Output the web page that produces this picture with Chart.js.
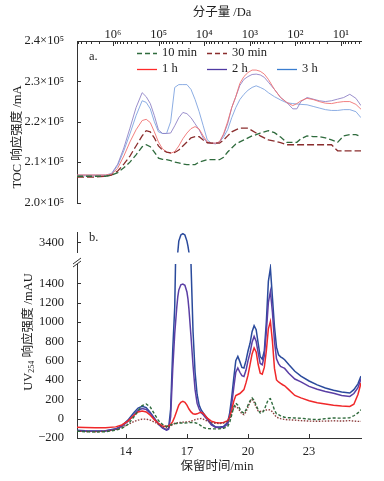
<!DOCTYPE html>
<html lang="zh">
<head>
<meta charset="UTF-8">
<title>TOC / UV254 chromatograms</title>
<style>
  body { margin: 0; background: #fff; }
  #wrap { position: relative; width: 384px; height: 481px; }
  canvas { position: absolute; left: 0; }
</style>
</head>
<body>
<div id="wrap">
  <canvas id="tocChart" width="384" height="215" style="top:0px"></canvas>
  <canvas id="uvTop" width="384" height="45" style="top:220px"></canvas>
  <canvas id="uvBottom" width="384" height="231" style="top:250px"></canvas>
</div>
<script src="https://cdn.jsdelivr.net/npm/chart.js"></script>
<script>
// ---- series names (legend) ----
const seriesNames = ['10 min', '30 min', '1 h', '2 h', '3 h'];

// ---- panel a: TOC response (x10^5 mA) vs retention time (min) ----
const tocTime = [
  11.6, 12.0, 12.5, 13.0, 13.3, 13.6, 13.9, 14.2, 14.5, 14.8,
  15.0, 15.2, 15.4, 15.6, 15.8, 16.0, 16.2, 16.4, 16.6, 16.8,
  17.0, 17.2, 17.4, 17.6, 17.8, 18.0, 18.2, 18.4, 18.6, 18.8,
  19.0, 19.2, 19.4, 19.6, 19.8, 20.0, 20.2, 20.4, 20.6, 20.8,
  21.0, 21.3, 21.6, 21.9, 22.2, 22.4, 22.6, 22.9, 23.2, 23.5,
  23.8, 24.1, 24.4, 24.7, 25.0, 25.3, 25.55
];
const toc10min = [
  2.065, 2.065, 2.065, 2.065, 2.068, 2.074, 2.086, 2.100, 2.118, 2.138,
  2.143, 2.138, 2.125, 2.110, 2.107, 2.106, 2.104, 2.100, 2.098, 2.095,
  2.094, 2.094, 2.094, 2.100, 2.103, 2.106, 2.106, 2.106, 2.106, 2.112,
  2.125, 2.135, 2.145, 2.150, 2.155, 2.160, 2.165, 2.168, 2.172, 2.175,
  2.178, 2.173, 2.162, 2.149, 2.149, 2.149, 2.158, 2.165, 2.163, 2.163,
  2.160, 2.155, 2.149, 2.165, 2.168, 2.168, 2.163
];
const toc30min = [
  2.063, 2.063, 2.063, 2.065, 2.068, 2.078, 2.095, 2.115, 2.140, 2.165,
  2.178, 2.175, 2.160, 2.140, 2.130, 2.125, 2.123, 2.124, 2.130, 2.140,
  2.150, 2.160, 2.163, 2.163, 2.155, 2.148, 2.147, 2.147, 2.147, 2.155,
  2.165, 2.175, 2.180, 2.184, 2.184, 2.184, 2.178, 2.172, 2.165, 2.160,
  2.155, 2.152, 2.148, 2.143, 2.143, 2.143, 2.143, 2.143, 2.143, 2.143,
  2.143, 2.143, 2.128, 2.128, 2.128, 2.128, 2.128
];
const toc1h = [
  2.068, 2.068, 2.068, 2.068, 2.070, 2.085, 2.115, 2.150, 2.180, 2.203,
  2.206, 2.198, 2.175, 2.150, 2.133, 2.125, 2.122, 2.126, 2.140, 2.158,
  2.172, 2.183, 2.188, 2.182, 2.165, 2.150, 2.147, 2.147, 2.150, 2.170,
  2.200, 2.235, 2.262, 2.295, 2.312, 2.322, 2.328, 2.328, 2.325, 2.318,
  2.305, 2.280, 2.260, 2.248, 2.240, 2.245, 2.252, 2.258, 2.255, 2.250,
  2.246, 2.245, 2.248, 2.250, 2.250, 2.243, 2.231
];
const toc2h = [
  2.068, 2.068, 2.068, 2.068, 2.072, 2.095, 2.135, 2.184, 2.235, 2.272,
  2.262, 2.245, 2.215, 2.180, 2.171, 2.171, 2.172, 2.190, 2.210, 2.223,
  2.220, 2.210, 2.195, 2.180, 2.160, 2.148, 2.147, 2.147, 2.150, 2.168,
  2.195, 2.235, 2.262, 2.290, 2.305, 2.312, 2.317, 2.318, 2.316, 2.310,
  2.298, 2.280, 2.260, 2.248, 2.232, 2.232, 2.250, 2.260, 2.256, 2.252,
  2.250, 2.252, 2.256, 2.260, 2.268, 2.258, 2.240
];
const toc3h = [
  2.066, 2.066, 2.066, 2.066, 2.070, 2.092, 2.128, 2.170, 2.215, 2.252,
  2.248, 2.232, 2.200, 2.175, 2.171, 2.171, 2.200, 2.285, 2.292, 2.292,
  2.292, 2.280, 2.255, 2.225, 2.190, 2.155, 2.147, 2.145, 2.150, 2.162,
  2.180, 2.210, 2.235, 2.255, 2.268, 2.278, 2.285, 2.289, 2.285, 2.280,
  2.272, 2.262, 2.254, 2.247, 2.245, 2.244, 2.243, 2.242, 2.238, 2.234,
  2.230, 2.228, 2.228, 2.230, 2.230, 2.225, 2.210
];
const tocTicks = [2.0, 2.1, 2.2, 2.3, 2.4];
const mwTicks = [1, 2, 3, 4, 5, 6];          // log10(MW / Da)

// ---- panel b: UV254 response (mAU) vs retention time (min) ----
const uvTime = [
  11.6, 12.0, 12.5, 13.0, 13.5, 13.8, 14.1, 14.4, 14.6, 14.8,
  15.0, 15.2, 15.4, 15.6, 15.8, 16.0, 16.1, 16.2, 16.3, 16.4,
  16.5, 16.55, 16.6, 16.7, 16.8, 16.9, 17.0, 17.05, 17.1, 17.2,
  17.3, 17.4, 17.5, 17.6, 17.7, 17.8, 17.9, 18.0, 18.2, 18.4,
  18.6, 18.8, 19.0, 19.1, 19.2, 19.3, 19.4, 19.5, 19.6, 19.7,
  19.8, 19.9, 20.0, 20.1, 20.2, 20.3, 20.4, 20.5, 20.6, 20.7,
  20.8, 20.9, 21.0, 21.1, 21.2, 21.3, 21.4, 21.5, 21.6, 21.7,
  21.8, 22.0, 22.3, 22.6, 23.0, 23.4, 23.8, 24.2, 24.6, 25.0,
  25.2, 25.4, 25.55
];
const uv10min = [
  -130, -135, -138, -135, -120, -100, -60, 20, 80, 135,
  152, 120, 50, -20, -60, -80, -75, -65, -55, -50,
  -50, -48, -47, -45, -45, -45, -44, -43, -42, -40,
  -40, -42, -48, -60, -75, -90, -98, -102, -105, -106,
  -105, -100, -80, -40, 40, 120, 160, 140, 100, 70,
  58, 90, 140, 185, 214, 190, 140, 90, 58, 60,
  90, 150, 200, 207, 150, 90, 50, 41, 30, 20,
  15, 10, 7, 5, -5, -10, 0, 7, 5, 10,
  30, 60, 93
];
const uv30min = [
  -130, -132, -135, -130, -115, -90, -60, -30, -15, -5,
  -5, -15, -35, -60, -85, -95, -90, -75, -60, -50,
  -45, -42, -40, -38, -36, -35, -33, -32, -30, -25,
  -20, -10, -5, 0, 2, -5, -15, -25, -40, -48,
  -50, -45, -30, 0, 60, 110, 127, 110, 80, 50,
  41, 70, 120, 170, 196, 170, 120, 80, 75, 80,
  85, 90, 93, 90, 70, 40, 15, 7, 0, -5,
  -8, -12, -15, -20, -25, -27, -25, -22, -25, -20,
  -25, -28, -28
];
const uv1h = [
  -90, -92, -95, -95, -85, -65, -25, 35, 70, 80,
  70, 35, -10, -50, -75, -80, -75, -60, -30, 20,
  80, 110, 140, 170, 179, 170, 140, 120, 100, 70,
  50, 45, 50, 60, 65, 55, 30, 5, -25, -40,
  -45, -40, -20, 20, 90, 180, 240, 250, 260, 280,
  300, 370, 450, 560, 670, 731, 690, 560, 470, 460,
  530, 700, 930, 1006, 800, 520, 400, 380, 365, 351,
  340, 300, 240, 215, 185, 165, 152, 140, 130, 127,
  150, 250, 369
];
const uv2h = [
  -125, -130, -130, -128, -110, -80, -30, 40, 85, 105,
  95, 55, 0, -55, -95, -118, -110, 20, 500, 880,
  1150, 1260, 1330, 1385, 1392, 1380, 1310, 1240, 1130, 850,
  550, 300, 160, 100, 60, 40, 15, -10, -65, -90,
  -95, -90, -55, 20, 150, 320, 480, 524, 480, 445,
  437, 500, 600, 680, 790, 851, 800, 680, 570, 558,
  650, 900, 1200, 1316, 1100, 800, 620, 570, 541, 530,
  520, 470, 410, 380, 334, 305, 282, 262, 240, 230,
  260, 320, 410
];
const uv3h = [
  -120, -125, -128, -125, -105, -75, -15, 65, 110, 128,
  115, 65, 5, -55, -95, -115, -100, 100, 700, 1150,
  2300, 3215, 3420, 3530, 3555, 3530, 3420, 3330, 3215, 1600,
  900, 480, 250, 140, 90, 60, 30, 5, -55, -85,
  -85, -80, -40, 60, 220, 420, 600, 644, 590, 530,
  524, 600, 700, 780, 900, 961, 920, 780, 640, 615,
  700, 1000, 1420, 1557, 1250, 950, 740, 661, 640, 627,
  610, 560, 490, 440, 390, 350, 317, 295, 275, 265,
  300, 360, 440
];
const uvLowTicks = [-200, 0, 200, 400, 600, 800, 1000, 1200, 1400];
const uvHighTicks = [3400];
const timeTicks = [14, 17, 20, 23];

// ---- styling ----
const serif = '"Liberation Serif", "Times New Roman", "Noto Sans CJK SC", serif';
const axisColor = '#333';
const textColor = '#222';
Chart.defaults.font.family = serif;
Chart.defaults.font.size = 12.5;
Chart.defaults.color = textColor;

const tocStyle = [
  { color: '#2f6b3d', width: 1.3, dash: [6, 3] },
  { color: '#8a2d2d', width: 1.3, dash: [7, 3] },
  { color: '#f07272', width: 0.9, dash: [] },
  { color: '#8f82c6', width: 0.9, dash: [] },
  { color: '#7fa4e0', width: 0.9, dash: [] }
];
const uvStyle = [
  { color: '#2f6b3d', width: 1.4, dash: [3, 2] },
  { color: '#8a3a3a', width: 1.4, dash: [1.5, 1.5] },
  { color: '#f0282a', width: 1.5, dash: [] },
  { color: '#5b3fa5', width: 1.5, dash: [] },
  { color: '#2a4a9c', width: 1.5, dash: [] }
];
const legendColors = ['#2f6b3d', '#8a2d2d', '#ff2a2a', '#4f3aa3', '#3a7dd0'];

const T_MIN = 11.6, T_MAX = 25.55;
const sup = ['⁰', '¹', '²', '³', '⁴', '⁵', '⁶'];

// minor ticks of the molecular weight axis (log decades)
const mwMinor = [];
for (let n = 0; n <= 6; n++) {
  for (let k = 2; k <= 9; k++) {
    const v = n + Math.log10(k);
    if (v > 0.56 && v < 6.79) mwMinor.push(v);
  }
}

function makeSets(time, series, style) {
  return series.map((arr, i) => ({
    label: seriesNames[i],
    data: time.map((t, j) => ({ x: t, y: arr[j] })),
    borderColor: style[i].color,
    borderWidth: style[i].width,
    borderDash: style[i].dash,
    pointRadius: 0,
    tension: 0,
    fill: false
  }));
}

function fixTicks(values) {
  return (s) => { s.ticks = values.map(v => ({ value: v })); };
}

function tickMarks(chart, id, values, len) {
  const s = chart.scales[id], c = chart.ctx, a = chart.chartArea;
  c.save();
  c.strokeStyle = axisColor;
  c.lineWidth = 1;
  c.beginPath();
  values.forEach(v => {
    const p = Math.round(s.getPixelForValue(v)) + 0.5;
    if (s.isHorizontal()) {
      if (s.options.position === 'top') { c.moveTo(p, a.top); c.lineTo(p, a.top + len); }
      else { c.moveTo(p, a.bottom); c.lineTo(p, a.bottom - len); }
    } else {
      c.moveTo(a.left, p); c.lineTo(a.left + len, p);
    }
  });
  c.stroke();
  c.restore();
}

const baseOpts = {
  responsive: false,
  animation: false,
  devicePixelRatio: 1,
  events: [],
  plugins: { legend: { display: false }, tooltip: { enabled: false } }
};

// ---- panel a ----
const legendPos = [[137, 53], [207, 53], [137, 69], [207, 69], [277, 69]];
const tocDecor = {
  id: 'tocDecor',
  afterDraw(chart) {
    tickMarks(chart, 'y', tocTicks, 4);
    tickMarks(chart, 'xt', mwTicks, 5);
    tickMarks(chart, 'xt', mwMinor, 3);
    const c = chart.ctx;
    c.save();
    c.fillStyle = textColor;
    c.font = '12.5px ' + serif;
    c.textBaseline = 'middle';
    c.textAlign = 'center';
    c.fillText('分子量 /Da', 222, 13);
    c.textAlign = 'left';
    c.fillText('a.', 89, 57);
    seriesNames.forEach((name, i) => {
      const [x, y] = legendPos[i];
      c.strokeStyle = legendColors[i];
      c.lineWidth = 1.3;
      c.setLineDash(tocStyle[i].dash.length ? [5, 3] : []);
      c.beginPath();
      c.moveTo(x, y + 0.5);
      c.lineTo(x + 20, y + 0.5);
      c.stroke();
      c.setLineDash([]);
      c.fillText(name, x + 25, y);
    });
    c.translate(18, 137);
    c.rotate(-Math.PI / 2);
    c.textAlign = 'center';
    c.fillText('TOC 响应强度 /mA', 0, 0);
    c.restore();
  }
};

new Chart(document.getElementById('tocChart'), {
  type: 'line',
  data: { datasets: makeSets(tocTime, [toc10min, toc30min, toc1h, toc2h, toc3h], tocStyle) },
  options: {
    ...baseOpts,
    layout: { padding: { left: 0, right: 23, top: 0, bottom: 3 } },
    scales: {
      x: { type: 'linear', min: T_MIN, max: T_MAX, display: false },
      xt: {
        type: 'linear', position: 'top', reverse: true, min: 0.56, max: 6.79,
        afterBuildTicks: fixTicks(mwTicks),
        afterFit: (s) => { s.height = 41; },
        grid: { display: false },
        border: { display: true, color: axisColor, width: 1 },
        ticks: { padding: -9, maxRotation: 0, autoSkip: false, callback: v => '10' + sup[v] }
      },
      y: {
        min: 2.0, max: 2.4,
        afterBuildTicks: fixTicks(tocTicks),
        afterFit: (s) => { s.width = 77; },
        grid: { display: false },
        border: { display: true, color: axisColor, width: 1 },
        ticks: { padding: 5, callback: v => v.toFixed(1) + '×10⁵' }
      }
    }
  },
  plugins: [tocDecor]
});

// ---- panel b, upper part of the broken axis ----
const uvTopDecor = {
  id: 'uvTopDecor',
  afterDraw(chart) {
    tickMarks(chart, 'y', uvHighTicks, 4);
    const c = chart.ctx;
    c.save();
    c.fillStyle = textColor;
    c.font = '12.5px ' + serif;
    c.textBaseline = 'middle';
    c.fillText('b.', 89, 18);
    c.restore();
  }
};

new Chart(document.getElementById('uvTop'), {
  type: 'line',
  data: { datasets: makeSets(uvTime, [uv10min, uv30min, uv1h, uv2h, uv3h], uvStyle) },
  options: {
    ...baseOpts,
    layout: { padding: { left: 0, right: 23, top: 7, bottom: 3 } },
    scales: {
      x: { type: 'linear', min: T_MIN, max: T_MAX, display: false },
      y: {
        min: 3215, max: 3575,
        afterBuildTicks: fixTicks(uvHighTicks),
        afterFit: (s) => { s.width = 77; },
        grid: { display: false },
        border: { display: true, color: axisColor, width: 1 },
        ticks: { padding: 5, callback: v => String(v) }
      }
    }
  },
  plugins: [uvTopDecor]
});

// ---- panel b, lower part ----
const uvBottomDecor = {
  id: 'uvBottomDecor',
  afterDraw(chart) {
    tickMarks(chart, 'y', uvLowTicks, 4);
    tickMarks(chart, 'x', timeTicks, 4);
    const c = chart.ctx;
    c.save();
    // axis break marks
    c.strokeStyle = axisColor;
    c.lineWidth = 1;
    c.beginPath();
    c.moveTo(73, 14); c.lineTo(81, 8);
    c.moveTo(73, 17); c.lineTo(81, 11);
    c.stroke();
    c.fillStyle = textColor;
    c.font = '12.5px ' + serif;
    c.textBaseline = 'middle';
    c.textAlign = 'center';
    c.fillText('保留时间/min', 217, 217);
    // rotated y title with subscript
    c.translate(29, 82);
    c.rotate(-Math.PI / 2);
    const parts = [['UV', 12.5, 0], ['254', 8, 3], [' 响应强度 /mAU', 12.5, 0]];
    let total = 0;
    parts.forEach(p => { c.font = p[1] + 'px ' + serif; total += c.measureText(p[0]).width; });
    let x = -total / 2;
    c.textAlign = 'left';
    parts.forEach(p => {
      c.font = p[1] + 'px ' + serif;
      c.fillText(p[0], x, p[2]);
      x += c.measureText(p[0]).width;
    });
    c.restore();
  }
};

new Chart(document.getElementById('uvBottom'), {
  type: 'line',
  data: { datasets: makeSets(uvTime, [uv10min, uv30min, uv1h, uv2h, uv3h], uvStyle) },
  options: {
    ...baseOpts,
    layout: { padding: { left: 0, right: 23, top: 14, bottom: 0 } },
    scales: {
      x: {
        type: 'linear', min: T_MIN, max: T_MAX,
        afterBuildTicks: fixTicks(timeTicks),
        afterFit: (s) => { s.height = 43; },
        grid: { display: false },
        border: { display: true, color: axisColor, width: 1 },
        ticks: { padding: -2, maxRotation: 0, autoSkip: false }
      },
      y: {
        min: -200, max: 1600,
        afterBuildTicks: fixTicks(uvLowTicks),
        afterFit: (s) => { s.width = 77; },
        grid: { display: false },
        border: { display: true, color: axisColor, width: 1 },
        ticks: { padding: 5, callback: v => v < 0 ? '−' + Math.abs(v) : String(v) }
      }
    }
  },
  plugins: [uvBottomDecor]
});
</script>
</body>
</html>
